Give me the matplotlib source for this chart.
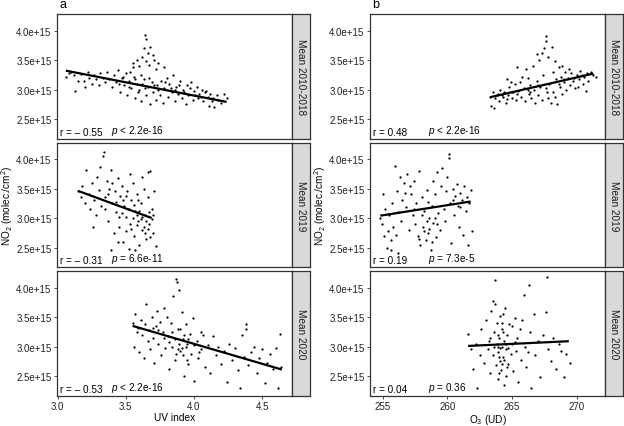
import numpy as np
import matplotlib.pyplot as plt
from matplotlib.ticker import FuncFormatter

plt.rcParams.update({
    'font.family': ['Liberation Sans', 'DejaVu Sans'],
    'font.size': 7.5,
    'mathtext.fontset': 'custom',
    'mathtext.rm': 'Liberation Sans',
    'mathtext.it': 'Liberation Sans:italic',
})

# NO2 values are in units of 1e15 molec./cm2
SCALE = 1e15

# --- column a: UV index ---
uv_2010 = [(3.06,3.22),(3.08,3.28),(3.10,3.30),(3.12,3.25),(3.13,2.97),(3.15,3.15),(3.17,3.26),(3.19,3.14),
           (3.20,3.05),(3.22,3.30),(3.23,3.20),(3.25,3.10),(3.27,3.24),(3.28,3.17),(3.30,3.08),(3.31,3.28),
           (3.33,3.20),(3.35,3.13),(3.36,3.30),(3.38,3.18),(3.40,3.05),(3.41,3.25),(3.43,3.12),(3.44,3.33),
           (3.46,2.95),(3.47,3.20),(3.49,3.08),(3.50,3.28),(3.51,2.90),(3.52,3.15),(3.54,3.02),(3.55,3.38),
           (3.56,3.22),(3.57,2.85),(3.58,3.10),(3.59,2.95),(3.55,3.45),(3.58,3.50),(3.60,3.40),(3.62,3.55),
           (3.63,3.70),(3.64,3.93),(3.645,3.85),(3.65,3.48),(3.66,3.62),(3.67,3.42),(3.68,3.72),(3.70,3.58),
           (3.71,3.50),(3.72,3.35),(3.74,3.45),(3.78,3.38),(3.60,3.00),(3.61,2.80),(3.63,3.18),(3.65,2.90),
           (3.66,3.05),(3.68,2.75),(3.69,3.12),(3.70,2.95),(3.72,2.82),(3.73,3.08),(3.75,2.90),(3.76,3.15),
           (3.77,2.78),(3.78,3.02),(3.80,3.20),(3.81,2.88),(3.82,3.10),(3.84,2.95),(3.85,3.25),(3.86,2.80),
           (3.87,3.05),(3.88,2.92),(3.90,3.15),(3.91,2.85),(3.92,3.00),(3.94,2.75),(3.95,3.08),(3.96,2.90),
           (3.98,3.12),(3.99,2.82),(4.00,2.98),(4.02,3.05),(4.03,2.85),(4.04,2.92),(4.06,3.00),(4.07,2.80),
           (4.08,2.95),(4.10,2.88),(4.11,2.72),(4.12,2.93),(4.14,2.85),(4.15,2.70),(4.17,2.90),(4.18,2.82),
           (4.20,2.78),(4.22,2.92),(4.24,2.86),(3.45,3.10),(3.52,3.05),(3.62,3.10),(3.74,3.00),(3.83,3.02),
           (3.93,2.95),(4.05,2.88),(3.48,3.22),(3.53,3.30),(3.57,3.18),(3.61,3.25),(3.64,3.02),(3.67,3.20),
           (3.71,3.08),(3.79,3.12),(3.86,3.00),(3.89,3.08),(3.97,3.02),(4.01,2.90),(4.09,2.97),(4.13,2.80)]
uv_2019 = [(3.15,3.45),(3.17,3.35),(3.18,3.55),(3.20,3.25),(3.21,3.82),(3.23,3.40),(3.24,3.15),(3.25,3.60),
           (3.27,3.30),(3.28,3.05),(3.29,3.70),(3.30,3.48),(3.31,3.87),(3.32,3.20),(3.33,4.05),(3.34,4.12),
           (3.35,3.35),(3.36,3.62),(3.37,2.95),(3.38,3.50),(3.39,3.82),(3.40,3.25),(3.41,2.75),(3.42,3.45),
           (3.43,3.10),(3.44,3.68),(3.45,2.85),(3.46,3.38),(3.47,3.55),(3.48,2.60),(3.49,3.20),(3.50,3.02),
           (3.51,3.45),(3.52,2.48),(3.53,2.90),(3.54,3.30),(3.55,3.60),(3.56,2.70),(3.57,3.12),(3.58,3.40),
           (3.59,2.95),(3.60,2.55),(3.61,3.25),(3.62,2.80),(3.63,3.50),(3.64,3.05),(3.65,2.65),(3.66,3.35),
           (3.67,2.90),(3.68,3.80),(3.69,3.15),(3.70,2.75),(3.71,3.45),(3.72,2.52),(3.45,3.02),(3.50,2.78),
           (3.55,3.00),(3.60,3.12),(3.65,2.95),(3.58,2.88),(3.62,3.70),(3.66,3.78),(3.48,3.30),(3.52,3.15),
           (3.40,3.60),(3.35,3.15),(3.44,2.60),(3.57,2.45),(3.26,2.85),(3.70,3.05),(3.53,3.75),(3.39,2.45),
           (3.68,2.68),(3.61,2.98),(3.47,3.08),(3.63,2.85),(3.56,3.22),(3.67,3.10),(3.59,3.30),(3.64,2.75),
           (3.50,3.38),(3.54,2.82),(3.58,3.05),(3.62,3.02),(3.66,2.82),(3.69,2.98),(3.43,3.28),(3.37,3.40)]
uv_2020 = [(3.55,3.40),(3.56,3.00),(3.57,3.55),(3.58,3.25),(3.59,3.32),(3.60,2.90),(3.61,3.45),(3.62,3.20),
           (3.63,2.80),(3.64,3.38),(3.65,3.72),(3.66,3.10),(3.67,3.28),(3.68,2.95),(3.69,3.50),(3.70,3.15),
           (3.71,2.72),(3.72,3.35),(3.73,3.60),(3.74,3.05),(3.75,3.42),(3.76,2.85),(3.77,3.25),(3.78,3.65),
           (3.79,2.98),(3.80,3.50),(3.81,3.18),(3.82,2.62),(3.83,3.40),(3.84,3.00),(3.85,3.85),(3.86,2.78),
           (3.87,4.15),(3.875,4.10),(3.88,3.30),(3.89,3.95),(3.90,2.92),(3.91,3.58),(3.92,3.12),(3.93,2.50),
           (3.94,3.38),(3.95,3.05),(3.96,2.70),(3.97,3.22),(3.98,2.88),(3.99,3.48),(4.00,2.42),(4.02,3.10),
           (4.03,2.80),(4.05,2.95),(4.07,3.20),(4.08,2.65),(4.10,3.02),(4.12,2.55),(4.14,3.18),(4.16,2.85),
           (4.18,3.00),(4.20,2.70),(4.22,2.92),(4.24,2.40),(4.26,3.05),(4.28,2.78),(4.30,2.98),(4.32,2.60),
           (4.34,2.30),(4.35,3.20),(4.37,2.82),(4.38,3.38),(4.40,2.68),(4.42,2.90),(4.44,3.00),(4.46,2.55),
           (4.48,2.80),(4.50,2.95),(4.52,2.38),(4.54,2.72),(4.56,2.88),(4.58,2.62),(4.60,2.98),(4.62,2.30),
           (4.63,3.22),(4.64,2.65),(3.90,3.30),(3.88,2.95),(3.92,2.85),(3.86,3.12),(3.95,2.78),(3.84,3.25),
           (4.05,3.25),(4.38,3.30),(3.89,3.05),(3.91,2.98),(3.93,3.20),(3.87,2.88),(3.94,3.00),(3.96,3.12),
           (3.82,3.08),(3.78,3.15),(3.74,3.28),(3.70,3.32),(4.00,3.02),(4.04,2.90)]

# --- column b: O3 (UD) ---
o3_2010 = [(263.3,2.88),(263.4,2.72),(263.6,2.68),(263.5,2.95),(263.7,2.85),(263.9,2.92),(264.0,2.80),(264.1,3.00),
           (264.3,2.87),(264.4,2.95),(264.5,2.78),(264.7,2.90),(264.8,3.05),(265.0,2.85),(265.1,2.95),(265.2,3.10),
           (265.3,2.82),(265.5,2.98),(265.6,3.12),(265.7,2.88),(265.9,3.02),(266.0,2.80),(266.1,3.35),(266.2,3.20),
           (266.3,2.92),(266.4,3.08),(266.5,2.85),(266.6,3.40),(266.7,3.00),(266.8,2.78),(266.9,3.15),(267.0,2.90),
           (267.1,3.50),(267.2,3.05),(267.3,2.82),(267.4,3.25),(267.5,3.70),(267.6,3.90),(267.65,3.82),(267.7,2.95),
           (267.8,3.55),(267.9,3.10),(268.0,2.78),(268.1,3.72),(268.2,3.30),(268.3,2.88),(268.4,3.18),(268.5,2.75),
           (268.6,3.38),(268.7,3.05),(268.8,3.22),(268.9,2.92),(269.0,3.12),(269.1,3.30),(269.2,3.00),(269.3,3.20),
           (269.5,3.08),(269.6,3.28),(269.7,3.15),(269.9,3.02),(270.0,3.25),(270.2,3.18),(270.3,3.32),(270.5,3.10),
           (270.6,3.22),(270.8,3.28),(270.9,3.15),(271.1,3.30),(271.3,3.24),(271.5,3.22),(270.7,2.97),(270.1,3.05),
           (265.8,3.22),(265.4,3.38),(264.9,3.12),(264.6,3.18),(266.9,3.60),(267.3,3.62),(268.3,3.48),(269.4,3.35),
           (268.9,3.40),(264.2,2.90),(265.0,2.96),(266.4,2.95),(267.6,3.02),(268.6,3.10),(263.8,2.90),(264.6,2.84),
           (265.4,2.92),(266.2,3.00),(267.0,3.08),(267.8,2.85),(268.2,2.95),(269.0,3.18),(269.8,3.20),(270.4,3.25)]
o3_2019 = [(254.8,3.00),(254.9,2.90),(255.0,3.40),(255.1,2.70),(255.2,3.15),(255.3,2.50),(255.4,2.78),(255.5,3.05),
           (255.6,2.62),(255.7,3.25),(255.8,2.85),(255.9,3.88),(256.0,2.72),(256.1,3.45),(256.2,3.10),(256.3,3.70),
           (256.4,2.95),(256.5,3.30),(256.6,3.60),(256.8,3.18),(256.9,3.75),(257.0,2.80),(257.2,3.40),(257.3,3.05),
           (257.4,3.62),(257.5,2.90),(257.6,3.25),(257.7,2.70),(257.8,3.80),(257.9,2.55),(258.0,3.35),(258.1,2.85),
           (258.2,3.12),(258.3,2.62),(258.4,3.48),(258.5,2.75),(258.6,3.00),(258.7,2.45),(258.8,3.20),(258.9,2.92),
           (259.0,3.40),(259.1,2.68),(259.2,3.78),(259.3,3.08),(259.4,2.80),(259.5,3.55),(259.6,3.85),(259.7,3.15),
           (259.8,2.95),(259.9,3.45),(260.0,3.70),(260.1,4.08),(260.15,4.02),(260.2,3.25),(260.3,2.58),(260.4,3.50),
           (260.5,3.05),(260.6,3.38),(260.7,3.58),(260.8,3.20),(260.9,2.85),(261.0,3.42),(261.1,3.30),(261.2,2.72),
           (261.3,3.55),(261.4,3.12),(261.5,3.35),(261.6,2.55),(261.7,3.25),(261.8,3.48),(261.9,2.78),(258.4,2.95),
           (258.0,3.05),(258.6,2.82),(257.8,2.65),(259.0,3.00),(255.6,2.45),(256.2,2.40),(258.9,3.62),(257.1,3.55),
           (258.2,2.78),(258.5,3.28),(258.8,2.60),(259.2,2.90),(260.4,3.30),(261.0,3.18),(256.7,3.42),(257.4,3.15)]
o3_2020 = [(261.6,3.22),(261.8,2.95),(262.0,2.62),(262.2,3.05),(262.3,2.30),(262.5,2.85),(262.6,3.30),(262.8,2.72),
           (263.0,3.45),(263.1,2.95),(263.2,3.10),(263.3,2.55),(263.4,3.60),(263.5,2.85),(263.6,3.25),(263.65,3.72),
           (263.7,4.12),(263.75,2.68),(263.8,3.05),(263.85,3.40),(263.9,2.45),(263.95,2.90),(264.0,3.15),(264.05,2.75),
           (264.1,3.52),(264.15,2.60),(264.2,3.00),(264.25,3.30),(264.3,2.82),(264.35,2.35),(264.4,3.10),(264.45,3.65),
           (264.5,2.95),(264.55,2.50),(264.6,3.20),(264.7,2.70),(264.8,3.38),(264.9,2.88),(265.0,3.05),(265.1,2.58),
           (265.2,3.48),(265.3,2.92),(265.4,3.15),(265.5,2.40),(265.6,3.30),(265.7,2.78),(265.9,3.88),(266.0,3.00),
           (266.1,2.65),(266.3,4.04),(266.4,3.25),(266.5,2.30),(266.7,3.55),(266.8,2.85),(267.0,3.10),(267.2,2.48),
           (267.4,3.20),(267.6,3.58),(267.7,4.18),(267.8,2.95),(268.0,2.75),(268.2,3.15),(268.4,2.62),(268.6,3.05),
           (268.8,2.92),(269.0,2.48),(269.2,2.88),(269.5,2.72),(264.0,2.82),(264.2,3.40),(263.9,3.00),(264.6,2.65),
           (265.0,3.35),(264.3,3.25),(263.5,3.78),(265.8,3.45),(266.2,2.90),(263.3,3.15),(264.1,2.98),(264.4,2.78),
           (263.9,3.20),(264.2,2.70),(264.5,3.05),(264.7,2.98),(264.0,2.55),(264.3,3.55),(263.6,3.00),(265.2,3.08)]

# regression line end points
uv_fit = {'2010-2018': ([3.06, 4.24], [3.32, 2.79]),
          '2019': ([3.15, 3.69], [3.46, 3.00]),
          '2020': ([3.55, 4.645], [3.35, 2.61])}
o3_fit = {'2010-2018': ([263.3, 271.3], [2.87, 3.27]),
          '2019': ([254.8, 261.8], [3.04, 3.28]),
          '2020': ([261.6, 269.4], [3.01, 3.09])}

uv_stats = ['r = \u2013 0.55', 'r = \u2013 0.31', 'r = \u2013 0.53']
uv_p = ['$p$ < 2.2e-16', '$p$ = 6.6e-11', '$p$ < 2.2e-16']
o3_stats = ['r = 0.48', 'r = 0.19', 'r = 0.04']
o3_p = ['$p$ < 2.2e-16', '$p$ = 7.3e-5', '$p$ = 0.36']

periods = ['2010-2018', '2019', '2020']
strip_labels = ['Mean 2010-2018', 'Mean 2019', 'Mean 2020']

#%%
W, H = 624, 427
fig = plt.figure(figsize=(W / 100, H / 100), dpi=100)

row_tops = [15, 143.5, 272]
row_h = 124.5
cols = [
    dict(x0=57, w=235, data=[uv_2010, uv_2019, uv_2020], fit=uv_fit, r=uv_stats, p=uv_p,
         xlim=(2.995, 4.72), xticks=[3.0, 3.5, 4.0, 4.5], xfmt='{:.1f}', xlabel='UV index',
         letter='a', p_off=0.23),
    dict(x0=370, w=235, data=[o3_2010, o3_2019, o3_2020], fit=o3_fit, r=o3_stats, p=o3_p,
         xlim=(254.0, 272.2), xticks=[255, 260, 265, 270], xfmt='{:.0f}', xlabel='O$_3$ (UD)',
         letter='b', p_off=0.245),
]
strip_w = 18
edge = '#333333'

yfmt = FuncFormatter(lambda v, pos: '{:.1e}'.format(v))

for col in cols:
    for i, period in enumerate(periods):
        left = col['x0'] / W
        bottom = 1 - (row_tops[i] + row_h) / H
        ax = fig.add_axes([left, bottom, col['w'] / W, row_h / H])
        pts = np.array(col['data'][i])
        ax.scatter(pts[:, 0], pts[:, 1] * SCALE, s=2.6, color='black', linewidths=0)
        fx, fy = col['fit'][period]
        ax.plot(fx, np.array(fy) * SCALE, color='black', lw=1.6, solid_capstyle='butt')

        ax.set_xlim(*col['xlim'])
        ax.set_ylim(2.17e15, 4.28e15)
        ax.set_yticks([2.5e15, 3.0e15, 3.5e15, 4.0e15])
        ax.yaxis.set_major_formatter(yfmt)
        ax.set_xticks(col['xticks'])
        if i == 2:
            ax.set_xticklabels([col['xfmt'].format(t) for t in col['xticks']])
            ax.set_xlabel(col['xlabel'], fontsize=7.3, labelpad=1)
        else:
            ax.tick_params(axis='x', bottom=False, labelbottom=False)
        ax.tick_params(length=2.5, width=0.6, color=edge, labelcolor='#222222',
                       labelsize=7.0, pad=1.5)
        for s in ax.spines.values():
            s.set_color(edge)
            s.set_linewidth(0.9)
        if i == 1:
            ax.set_ylabel('NO$_2$ (molec./cm$^2$)', fontsize=7.2, labelpad=1)

        ax.text(0.012, 0.015, col['r'][i], transform=ax.transAxes, ha='left', va='bottom', fontsize=7.2)
        ax.text(col['p_off'], 0.015, col['p'][i], transform=ax.transAxes, ha='left', va='bottom', fontsize=7.2)

        # facet strip on the right
        sax = fig.add_axes([(col['x0'] + col['w']) / W, bottom, strip_w / W, row_h / H])
        sax.set_facecolor('#D9D9D9')
        sax.set_xticks([])
        sax.set_yticks([])
        for s in sax.spines.values():
            s.set_color(edge)
            s.set_linewidth(0.9)
        sax.text(0.5, 0.5, strip_labels[i], rotation=270, ha='center', va='center',
                 fontsize=7.2, color='#1A1A1A', transform=sax.transAxes)

        if i == 0:
            ax.text(0.01, 1.03, col['letter'], transform=ax.transAxes, ha='left', va='bottom', fontsize=9)

fig.savefig('out.png', dpi=100, facecolor='white')
